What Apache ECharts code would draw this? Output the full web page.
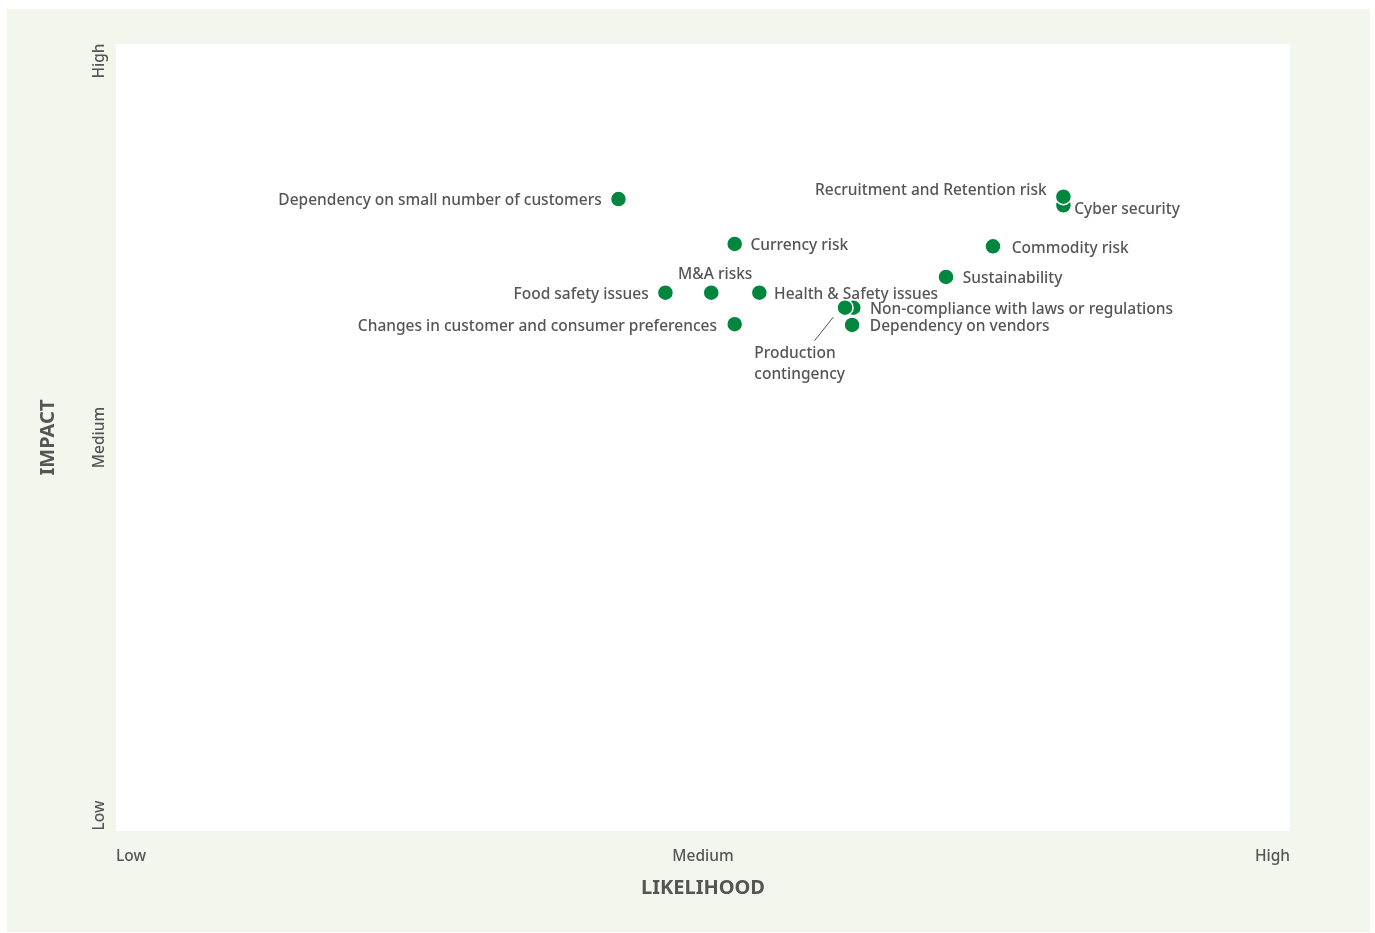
<!DOCTYPE html>
<html><head><meta charset="utf-8">
<script src="https://cdn.jsdelivr.net/npm/echarts@6/dist/echarts.min.js"></script>
<style>html,body{margin:0;padding:0;background:#fff}#c{width:1375px;height:933px}</style>
</head><body><div id="c"></div>
<script>
// ---- data ----
const risks = [
  'Dependency on small number of customers',
  'Currency risk',
  'Cyber security',
  'Recruitment and Retention risk',
  'Commodity risk',
  'Sustainability',
  'Food safety issues',
  'M&A risks',
  'Health & Safety issues',
  'Non-compliance with laws or regulations',
  'Production contingency',
  'Dependency on vendors',
  'Changes in customer and consumer preferences'
];
const likelihood = [4.28, 5.27, 8.07, 8.07, 7.47, 7.07, 4.68, 5.07, 5.48, 6.28, 6.21, 6.27, 5.27];
const impact     = [8.03, 7.46, 7.95, 8.06, 7.43, 7.04, 6.84, 6.84, 6.84, 6.65, 6.65, 6.43, 6.44];
const xTickLabels = {0: 'Low', 5: 'Medium', 10: 'High'};
const yTickLabels = {0: 'Low', 5: 'Medium', 10: 'High'};
// leader line for "Production contingency" (data coords)
const leaderFrom = [6.11, 6.53];
const leaderTo = [5.95, 6.23];

// ---- label styling ----
const labelStyle = {
  'Dependency on small number of customers': {position: 'left', distance: 8},
  'Currency risk': {position: 'right', distance: 7},
  'Cyber security': {position: 'right', distance: 2, offset: [0, 4]},
  'Recruitment and Retention risk': {position: 'left', distance: 8, offset: [0, -6]},
  'Commodity risk': {position: 'right', distance: 10},
  'Sustainability': {position: 'right', distance: 8},
  'Food safety issues': {position: 'left', distance: 8},
  'M&A risks': {position: 'top', distance: 3, offset: [4, 2]},
  'Health & Safety issues': {position: 'right', distance: 6},
  'Non-compliance with laws or regulations': {position: 'right', distance: 8},
  'Production contingency': {position: [-82, 44], offset: [0, 0], align: 'left', verticalAlign: 'top', formatter: 'Production\ncontingency', lineHeight: 21},
  'Dependency on vendors': {position: 'right', distance: 9},
  'Changes in customer and consumer preferences': {position: 'left', distance: 9}
};

const FONT = 'Noto Sans';
const TXT = '#555555';
const GREEN = '#00873d';
const FS = 15.5;

const data = risks.map((n, i) => ({
  name: n,
  value: [likelihood[i], impact[i]],
  label: Object.assign({show: true, formatter: n, offset: [0, 2]}, labelStyle[n])
}));

const chart = echarts.init(document.getElementById('c'), null, {renderer: 'canvas'});
chart.setOption({
  backgroundColor: '#ffffff',
  animation: false,
  graphic: [{
    type: 'rect', z: -10, silent: true,
    shape: {x: 7, y: 9, width: 1363, height: 923},
    style: {fill: '#f2f6ec'}
  }],
  grid: {left: 116, right: 85, top: 44, bottom: 102, show: true, backgroundColor: '#ffffff', borderWidth: 0, containLabel: false},
  xAxis: {
    type: 'value', min: 0, max: 10, interval: 5,
    name: 'LIKELIHOOD', nameLocation: 'middle', nameGap: 47,
    nameTextStyle: {fontFamily: FONT, fontSize: 20, fontWeight: 'bold', color: TXT},
    axisLine: {show: false}, axisTick: {show: false}, splitLine: {show: false},
    axisLabel: {
      margin: 18, fontFamily: FONT, fontSize: FS, fontWeight: 500, color: TXT,
      alignMinLabel: 'left', alignMaxLabel: 'right',
      formatter: v => xTickLabels[v] || ''
    }
  },
  yAxis: {
    type: 'value', min: 0, max: 10, interval: 5,
    name: 'IMPACT', nameLocation: 'middle', nameGap: 58,
    nameTextStyle: {fontFamily: FONT, fontSize: 20, fontWeight: 'bold', color: TXT},
    axisLine: {show: false}, axisTick: {show: false}, splitLine: {show: false},
    axisLabel: {
      rotate: 90, margin: 8, fontFamily: FONT, fontSize: FS, fontWeight: 500, color: TXT,
      formatter: v => {
        const t = yTickLabels[v] || '';
        if (v === 0) return '{lo|' + t + '}';
        if (v === 10) return '{hi|' + t + '}';
        return t;
      },
      rich: {
        lo: {padding: [0, 0, 0, 31], fontFamily: FONT, fontSize: FS, fontWeight: 500, color: TXT},
        hi: {padding: [0, 34, 0, 0], fontFamily: FONT, fontSize: FS, fontWeight: 500, color: TXT}
      }
    }
  },
  series: [{
    type: 'scatter',
    symbolSize: 16,
    itemStyle: {color: GREEN, borderColor: '#ffffff', borderWidth: 1.5, opacity: 1},
    label: {fontFamily: FONT, fontSize: FS, fontWeight: 500, color: TXT},
    data: data,
    markLine: {
      silent: true, symbol: 'none',
      lineStyle: {color: '#555555', type: 'solid', width: 1},
      label: {show: false},
      data: [[{coord: leaderFrom}, {coord: leaderTo}]]
    }
  }]
});
</script>
</body></html>
